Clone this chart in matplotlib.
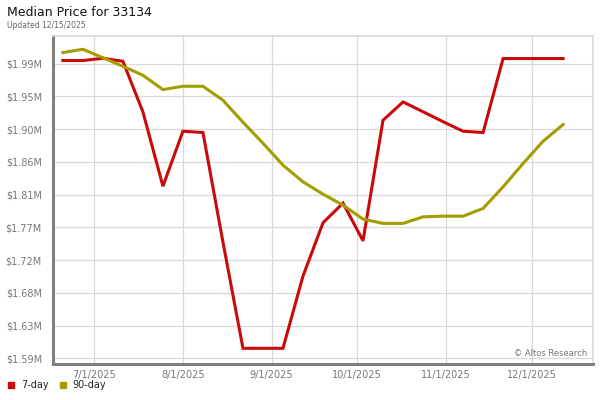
import matplotlib
matplotlib.use("Agg")
import matplotlib.pyplot as plt
import matplotlib.dates as mdates
import matplotlib.ticker as mticker
import pandas as pd

# weekly observations (Fridays), prices in millions of dollars
dates = pd.date_range("2025-06-20", periods=26, freq="7D")
price_7day = [1.9941, 1.9941, 1.9972, 1.9931, 1.9244, 1.8236, 1.8982, 1.8964,
              1.7477, 1.6036, 1.6036, 1.6036, 1.7016, 1.7739, 1.8006, 1.7495,
              1.9131, 1.9379, 1.9246, 1.9111, 1.8982, 1.8964, 1.9968, 1.9968,
              1.9968, 1.9968]
price_90day = [2.0049, 2.0094, 1.9979, 1.9863, 1.9741, 1.9547, 1.9592, 1.9592,
               1.9402, 1.9104, 1.8819, 1.8521, 1.8295, 1.8128, 1.7979, 1.7789,
               1.7731, 1.7731, 1.7820, 1.7829, 1.7829, 1.7934, 1.8227, 1.8544,
               1.8846, 1.9073]
y_ticks = [1.59, 1.63444, 1.67889, 1.72333, 1.76778, 1.81222, 1.85667,
           1.90111, 1.94556, 1.99]
x_ticks = ["2025-07-01", "2025-08-01", "2025-09-01", "2025-10-01",
           "2025-11-01", "2025-12-01"]

red = "#c80a0a"
olive = "#a39d00"
grid_c = "#d9d9d9"
label_c = "#777777"

fig = plt.figure(figsize=(6, 4), dpi=100)
ax = fig.add_axes([53 / 600, 36 / 400, 540 / 600, 328 / 400])

ax.plot(dates, price_7day, color=red, lw=2.2, solid_joinstyle="miter", zorder=3)
ax.plot(dates, price_90day, color=olive, lw=2.2, solid_joinstyle="miter", zorder=3)

ax.set_xlim(pd.Timestamp("2025-06-16 13:00"), pd.Timestamp("2025-12-22 11:00"))
ax.set_ylim(1.5823, 2.0274)

ax.set_yticks(y_ticks)
ax.yaxis.set_major_formatter(mticker.FuncFormatter(lambda v, p: "$%.2fM" % v))
ax.set_xticks(pd.to_datetime(x_ticks))
ax.xaxis.set_major_formatter(mdates.DateFormatter("%-m/%-d/%Y"))
ax.tick_params(length=0, labelsize=7, labelcolor=label_c)
ax.tick_params(axis="y", pad=8)
ax.tick_params(axis="x", pad=4)

ax.grid(True, color=grid_c, lw=0.9)
ax.set_axisbelow(True)
for side in ["top", "right"]:
    ax.spines[side].set_color(grid_c)
    ax.spines[side].set_linewidth(1.2)
for side in ["left", "bottom"]:
    ax.spines[side].set_color("#808080")
    ax.spines[side].set_linewidth(2.2)

fig.text(7 / 600, 1 - 12 / 400, "Median Price for 33134", fontsize=9,
         va="center", ha="left", color="#111111")
fig.text(7 / 600, 1 - 25 / 400, "Updated 12/15/2025", fontsize=5.5,
         va="center", ha="left", color="#666666")
fig.text(587 / 600, 1 - 353 / 400, "\u00a9 Altos Research", fontsize=6,
         va="center", ha="right", color="#777777")

# legend along the bottom edge
fig.patches.append(plt.Rectangle((8 / 600, 1 - 388 / 400), 6 / 600, 6 / 400,
                                 transform=fig.transFigure, color=red))
fig.text(21 / 600, 1 - 385.5 / 400, "7-day", fontsize=7, va="center", color="#222222")
fig.patches.append(plt.Rectangle((60 / 600, 1 - 388 / 400), 6 / 600, 6 / 400,
                                 transform=fig.transFigure, color=olive))
fig.text(72 / 600, 1 - 385.5 / 400, "90-day", fontsize=7, va="center", color="#222222")

fig.savefig("out.png", dpi=100)
